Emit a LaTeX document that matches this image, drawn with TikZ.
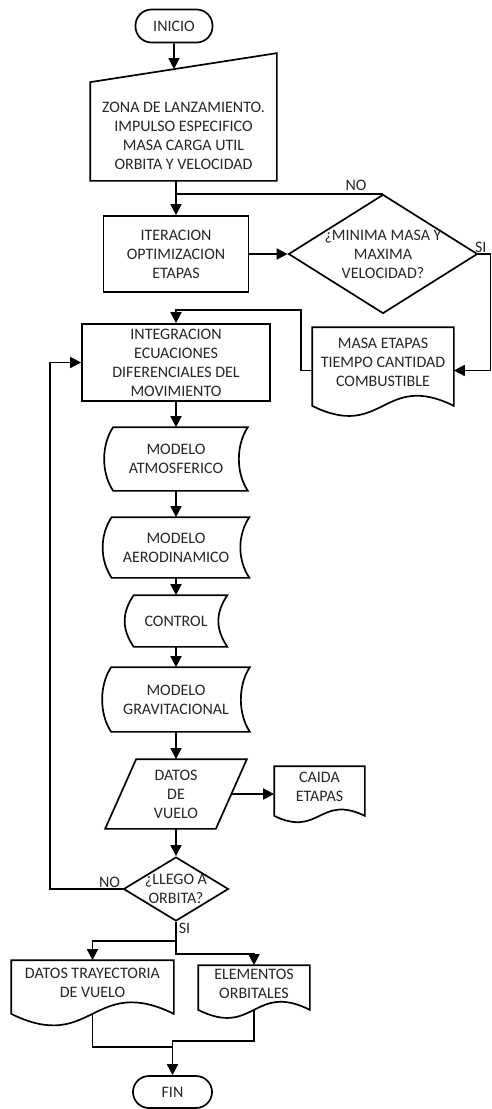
\documentclass[tikz,border=0pt]{standalone}
\usepackage{fontspec}
\setmainfont{Carlito}
\usetikzlibrary{arrows.meta,shapes.geometric,calc}
\begin{document}
\begin{tikzpicture}[x=1pt, y=1pt, line width=1.7pt, line join=miter,
  font=\fontsize{16}{19}\selectfont, text=black!85,
  caja/.style={draw, rectangle, inner sep=0pt, align=center},
  terminal/.style={caja, rounded corners=16pt},
  hueco/.style={rectangle, inner sep=0pt, align=center},
  rombo/.style={draw, diamond, inner sep=0pt},
  flecha/.style={-{Triangle[width=11pt,length=11pt]}}]
  \useasboundingbox (0,0) rectangle (491,-1109);
  % el inicio y los datos de entrada
  \node[terminal, minimum width=77pt, minimum height=33pt] (inicio) at (174,-26) {INICIO};
  \node[hueco, minimum width=185pt, minimum height=89pt] (zona) at (183.5,-135.5)
    {ZONA DE LANZAMIENTO.\\IMPULSO ESPECIFICO\\MASA CARGA UTIL\\ORBITA Y VELOCIDAD};
  \draw (zona.south west) -- ([yshift=8pt]zona.north west) -- ([yshift=37pt]zona.north east)
    -- (zona.south east) -- cycle;
  \coordinate (zonaTop) at ($([yshift=8pt]zona.north west)!0.449!([yshift=37pt]zona.north east)$);
  % la optimizacion de etapas
  \node[caja, minimum width=145pt, minimum height=76pt] (iter) at (176,-254) {ITERACION\\OPTIMIZACION\\ETAPAS};
  \node[rombo, minimum width=189pt, minimum height=119pt] (min) at (383,-254) {};
  \node[hueco] (minTxt) at (min) {¿MINIMA MASA Y\\MAXIMA\\VELOCIDAD?};
  \node[hueco, minimum width=140pt, minimum height=69pt] (masa) at (383,-362.5)
    {MASA ETAPAS\\TIEMPO CANTIDAD\\COMBUSTIBLE};
  % la integracion y los modelos
  \node[caja, minimum width=188pt, minimum height=77pt] (integ) at (176,-362.5)
    {INTEGRACION\\ECUACIONES\\DIFERENCIALES DEL\\MOVIMIENTO};
  \node[hueco, minimum width=142pt, minimum height=62pt] (atmos) at (176,-459) {MODELO\\ATMOSFERICO};
  \node[hueco, minimum width=145pt, minimum height=59pt] (aero) at (176,-547.5) {MODELO\\AERODINAMICO};
  \node[hueco, minimum width=101pt, minimum height=50pt] (control) at (176,-621) {CONTROL};
  \node[hueco, minimum width=146pt, minimum height=63pt] (grav) at (176,-699.5) {MODELO\\GRAVITACIONAL};
  \foreach \n in {atmos,aero,control,grav} {
    \draw ([xshift=9pt]\n.north west) -- (\n.north east)
      .. controls +(-12,-18) and +(-12,18) .. (\n.south east)
      -- ([xshift=9pt]\n.south west)
      .. controls +(-12,18) and +(-12,-18) .. ([xshift=9pt]\n.north west) -- cycle;
  }
  % los datos de vuelo y la pregunta
  \node[hueco, minimum width=140pt, minimum height=68pt] (datos) at (176,-794) {DATOS\\DE\\VUELO};
  \draw ([xshift=31pt]datos.north west) -- (datos.north east) -- ([xshift=-31pt]datos.south east)
    -- (datos.south west) -- cycle;
  \node[hueco, minimum width=89pt, minimum height=40pt] (caida) at (319.5,-787) {CAIDA\\ETAPAS};
  \node[rombo, minimum width=105pt, minimum height=64pt] (llego) at (176,-889) {};
  \node[hueco] (llegoTxt) at (llego) {¿LLEGO A\\ORBITA?};
  % las salidas y el fin
  \node[hueco, minimum width=161pt, minimum height=44pt] (trayec) at (92.5,-983) {DATOS TRAYECTORIA\\DE VUELO};
  \node[hueco, minimum width=110pt, minimum height=35pt] (elem) at (254,-983.5) {ELEMENTOS\\ORBITALES};
  \node[terminal, minimum width=79pt, minimum height=32pt] (fin) at (172.5,-1092) {FIN};
  % los documentos, con su borde ondulado
  \foreach \n/\a in {masa/35,caida/22,trayec/40,elem/28} {
    \draw (\n.north west) -- (\n.north east) -- ([yshift=-8pt]\n.south east)
      .. controls ($(\n.south)+(0,\a-8)$) and ($(\n.south)+(0,-\a-8)$) .. ([yshift=-8pt]\n.south west) -- cycle;
  }
  % las flechas
  \draw[flecha] (inicio.south) -- (zonaTop);
  \draw[flecha] (iter |- zona.south) -- (iter.north);
  \draw (min.north) -- node[pos=0.13, above, inner sep=2pt] (noArriba) {NO} (iter |- min.north);
  \draw[flecha] (iter.east) -- (min.west);
  \draw[flecha] (min.east) -- node[pos=0.2, above, inner sep=1pt] (siArriba) {SI} ++(12,0)
    |- ([yshift=-8pt]masa.east);
  \draw[flecha] ([yshift=-8pt]masa.west) -- ++(-11,0) |- ($(integ.north)+(0,13)$) -- (integ.north);
  \foreach \a/\b in {integ/atmos,atmos/aero,aero/control,control/grav,grav/datos,datos/llego}
    \draw[flecha] (\a.south) -- (\b.north);
  \draw[flecha] ([xshift=-15.5pt]datos.east) -- (datos -| caida.west);
  \draw[flecha] (llego.west) -- node[pos=0.18, above, inner sep=1pt] (noAbajo) {NO} ++(-73,0) |- (integ.west);
  \draw[flecha] (llego.south) -- ++(0,-19) -| (trayec.north);
  \draw[flecha] (llego.south) -- node[pos=0.2, right, inner sep=2pt] (siAbajo) {SI} ++(0,-32) -| (elem.north);
  \draw ([yshift=-8pt]trayec.south) |- ($(fin.north)+(0,28)$);
  \draw[flecha] ([yshift=-8pt]elem.south) |- ($(fin.north)+(0,34)$) -- (fin.north);
\end{tikzpicture}
\end{document}
